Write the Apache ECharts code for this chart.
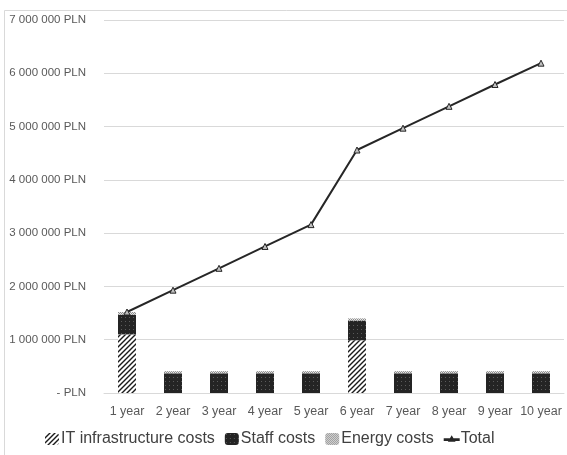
<!DOCTYPE html>
<html>
<head>
<meta charset="utf-8">
<script src="https://cdn.jsdelivr.net/npm/echarts@6/dist/echarts.min.js"></script>
<style>
  html, body { margin: 0; padding: 0; background: #fff; }
  #chart { width: 567px; height: 455px; }
</style>
</head>
<body>
<div id="chart"></div>
<script>
// Ten-year cost projection (PLN)
const years = ['1 year', '2 year', '3 year', '4 year', '5 year', '6 year', '7 year', '8 year', '9 year', '10 year'];
const itInfrastructure = [1100000, 0, 0, 0, 0, 990000, 0, 0, 0, 0];
const staffCosts = [370000, 370000, 370000, 370000, 370000, 370000, 370000, 370000, 370000, 370000];
const energyCosts = [50000, 40000, 40000, 40000, 40000, 40000, 40000, 40000, 40000, 40000];
const totalCosts = [1520000, 1930000, 2340000, 2750000, 3160000, 4560000, 4970000, 5380000, 5790000, 6190000];
const yTicks = { min: 0, max: 7000000, step: 1000000 };

// Fill patterns for the stacked bars
function makePattern(size, draw) {
  const c = document.createElement('canvas');
  c.width = size; c.height = size;
  const ctx = c.getContext('2d');
  draw(ctx, size);
  return { image: c, repeat: 'repeat' };
}
const hatch = makePattern(5, (ctx, s) => {
  ctx.fillStyle = '#ffffff';
  ctx.fillRect(0, 0, s, s);
  ctx.strokeStyle = '#1a1a1a';
  ctx.lineWidth = 1.4;
  ctx.beginPath();
  ctx.moveTo(-1, s + 1); ctx.lineTo(s + 1, -1);
  ctx.moveTo(-1, 1); ctx.lineTo(1, -1);
  ctx.moveTo(s - 1, s + 1); ctx.lineTo(s + 1, s - 1);
  ctx.stroke();
});
const dotsDark = makePattern(4, (ctx, s) => {
  ctx.fillStyle = '#242424';
  ctx.fillRect(0, 0, s, s);
  ctx.fillStyle = '#5a5a5a';
  ctx.fillRect(1, 1, 1, 1);
});
const dotsLight = makePattern(2, (ctx, s) => {
  ctx.fillStyle = '#e6e6e6';
  ctx.fillRect(0, 0, s, s);
  ctx.fillStyle = '#8c8c8c';
  ctx.fillRect(0, 0, 1, 1);
  ctx.fillRect(1, 1, 1, 1);
});

function plnLabel(v) {
  if (v === 0) return '- PLN';
  return String(v).replace(/\B(?=(\d{3})+(?!\d))/g, ' ') + ' PLN';
}

const chart = echarts.init(document.getElementById('chart'), null, { renderer: 'canvas' });
const fontFamily = 'Liberation Sans, Arial, sans-serif';
chart.setOption({
  animation: false,
  backgroundColor: '#ffffff',
  textStyle: { fontFamily: fontFamily },
  graphic: [{
    type: 'rect',
    shape: { x: 4.5, y: 10.5, width: 580, height: 460 },
    style: { fill: 'none', stroke: '#d9d9d9', lineWidth: 1 },
    silent: true
  }],
  grid: { left: 104, right: 3, top: 20, bottom: 62, containLabel: false },
  legend: {
    bottom: 3,
    left: 40,
    itemGap: 10,
    itemWidth: 14,
    itemHeight: 12,
    textStyle: { fontSize: 16, color: '#404040', fontFamily: fontFamily, padding: [0, 0, 0, -3] },
    data: [
      { name: 'IT infrastructure costs' },
      { name: 'Staff costs' },
      { name: 'Energy costs' },
      { name: 'Total', icon: 'path://M0,5 L20,5 L20,6 L0,6 Z M10,2 L13,7 L7,7 Z', itemStyle: { color: '#262626' } }
    ]
  },
  xAxis: {
    type: 'category',
    data: years,
    axisLine: { show: true, lineStyle: { color: '#d9d9d9' } },
    axisTick: { show: false },
    axisLabel: { color: '#595959', fontSize: 12.5, margin: 12, interval: 0, hideOverlap: false }
  },
  yAxis: {
    type: 'value',
    min: yTicks.min,
    max: yTicks.max,
    interval: yTicks.step,
    axisLine: { show: false },
    axisTick: { show: false },
    splitLine: { lineStyle: { color: '#d9d9d9', width: 1 } },
    axisLabel: { color: '#595959', fontSize: 11.5, margin: 18, formatter: plnLabel }
  },
  series: [
    {
      name: 'IT infrastructure costs',
      type: 'bar',
      stack: 'costs',
      barWidth: 18,
      data: itInfrastructure,
      itemStyle: { color: hatch }
    },
    {
      name: 'Staff costs',
      type: 'bar',
      stack: 'costs',
      barWidth: 18,
      data: staffCosts,
      itemStyle: { color: dotsDark }
    },
    {
      name: 'Energy costs',
      type: 'bar',
      stack: 'costs',
      barWidth: 18,
      data: energyCosts,
      itemStyle: { color: dotsLight }
    },
    {
      name: 'Total',
      type: 'line',
      data: totalCosts,
      symbol: 'triangle',
      symbolSize: 6,
      showSymbol: true,
      lineStyle: { color: '#262626', width: 2 },
      itemStyle: { color: '#bfbfbf', borderColor: '#262626', borderWidth: 1 }
    }
  ]
});
</script>
</body>
</html>
